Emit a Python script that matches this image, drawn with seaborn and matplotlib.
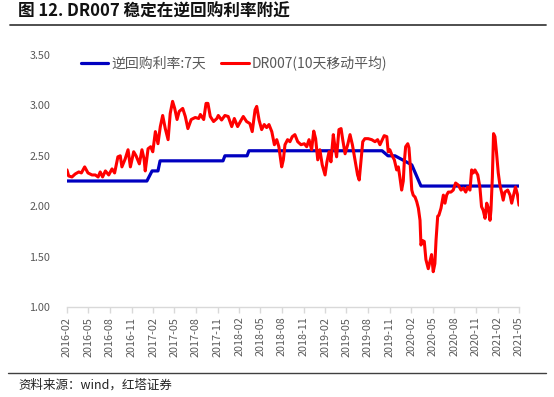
import numpy as np
import pandas as pd
import matplotlib
matplotlib.use("Agg")
import matplotlib.pyplot as plt
import matplotlib.dates as mdates
import seaborn as sns

sns.set_theme(style="white")
plt.rcParams['font.family'] = ['Noto Sans CJK SC', 'DejaVu Sans']

# 逆回购利率:7天 (turning points)
repo_dates = ['2016-02-01', '2017-01-05', '2017-01-27', '2017-02-21', '2017-03-02',
              '2017-11-24', '2017-12-02', '2018-03-06', '2018-03-14', '2019-09-30',
              '2019-10-25', '2019-11-24', '2020-02-03', '2020-03-13', '2021-05-03']
repo_rate = [2.25, 2.25, 2.35, 2.35, 2.45,
             2.45, 2.50, 2.50, 2.55, 2.55,
             2.50, 2.50, 2.41, 2.20, 2.20]

# DR007 10天移动平均 (traced)
dr_dates = [
    '2016-02-01', '2016-02-08', '2016-02-22', '2016-03-07', '2016-03-22', '2016-04-02',
    '2016-04-16', '2016-04-30', '2016-05-17', '2016-05-31', '2016-06-12', '2016-06-21',
    '2016-07-01', '2016-07-13', '2016-07-27', '2016-08-10', '2016-08-21', '2016-09-04',
    '2016-09-14', '2016-09-21', '2016-10-05', '2016-10-17', '2016-10-27', '2016-11-10',
    '2016-11-20', '2016-12-04', '2016-12-15', '2016-12-24', '2016-12-29', '2017-01-10',
    '2017-01-21', '2017-01-30', '2017-02-10', '2017-02-21', '2017-03-03', '2017-03-13',
    '2017-03-24', '2017-04-05', '2017-04-14', '2017-04-24', '2017-05-03', '2017-05-13',
    '2017-05-22', '2017-06-06', '2017-06-17', '2017-06-28', '2017-07-12', '2017-07-29',
    '2017-08-13', '2017-08-20', '2017-09-03', '2017-09-13', '2017-09-21', '2017-10-01',
    '2017-10-15', '2017-10-29', '2017-11-04', '2017-11-18', '2017-12-02', '2017-12-16',
    '2017-12-31', '2018-01-11', '2018-01-25', '2018-02-08', '2018-02-18', '2018-03-04',
    '2018-03-18', '2018-03-28', '2018-04-09', '2018-04-16', '2018-04-26', '2018-05-07',
    '2018-05-18', '2018-05-28', '2018-06-07', '2018-06-19', '2018-06-30', '2018-07-10',
    '2018-07-19', '2018-07-31', '2018-08-07', '2018-08-14', '2018-08-25', '2018-09-04',
    '2018-09-14', '2018-09-25', '2018-10-07', '2018-10-21', '2018-11-04', '2018-11-14',
    '2018-11-24', '2018-12-05', '2018-12-14', '2018-12-22', '2018-12-31', '2019-01-09',
    '2019-01-19', '2019-01-31', '2019-02-08', '2019-02-17', '2019-02-25', '2019-03-07',
    '2019-03-14', '2019-03-21', '2019-03-31', '2019-04-09', '2019-04-16', '2019-04-26',
    '2019-05-07', '2019-05-17', '2019-05-27', '2019-06-07', '2019-06-18', '2019-06-25',
    '2019-07-02', '2019-07-10', '2019-07-19', '2019-08-02', '2019-08-17', '2019-08-31',
    '2019-09-11', '2019-09-21', '2019-10-01', '2019-10-09', '2019-10-20', '2019-10-26',
    '2019-11-02', '2019-11-12', '2019-11-21', '2019-12-01', '2019-12-08', '2019-12-15',
    '2019-12-22', '2019-12-29', '2020-01-02', '2020-01-08', '2020-01-17', '2020-01-22',
    '2020-01-28', '2020-02-03', '2020-02-09', '2020-02-17', '2020-02-24', '2020-03-02',
    '2020-03-09', '2020-03-13', '2020-03-19', '2020-03-27', '2020-04-03', '2020-04-13',
    '2020-04-20', '2020-04-27', '2020-05-04', '2020-05-11', '2020-05-16', '2020-05-23',
    '2020-05-28', '2020-06-06', '2020-06-16', '2020-06-23', '2020-06-30', '2020-07-07',
    '2020-07-18', '2020-07-28', '2020-08-07', '2020-08-18', '2020-08-30', '2020-09-09',
    '2020-09-19', '2020-09-27', '2020-10-07', '2020-10-14', '2020-10-21', '2020-10-28',
    '2020-11-09', '2020-11-18', '2020-11-25', '2020-12-02', '2020-12-10', '2020-12-17',
    '2020-12-24', '2020-12-31', '2021-01-04', '2021-01-10', '2021-01-15', '2021-01-21',
    '2021-01-28', '2021-02-04', '2021-02-11', '2021-02-18', '2021-02-25', '2021-03-04',
    '2021-03-16', '2021-03-26', '2021-04-02', '2021-04-09', '2021-04-18', '2021-04-26',
    '2021-05-03']
dr_value = [
    2.36, 2.30, 2.29, 2.32, 2.34, 2.33,
    2.39, 2.33, 2.31, 2.31, 2.29, 2.34,
    2.29, 2.35, 2.31, 2.37, 2.33, 2.49,
    2.50, 2.39, 2.47, 2.56, 2.39, 2.54,
    2.50, 2.42, 2.56, 2.47, 2.35, 2.57,
    2.59, 2.54, 2.74, 2.62, 2.79, 2.90,
    2.77, 2.66, 2.92, 3.04, 2.97, 2.86,
    2.94, 2.97, 2.89, 2.77, 2.86, 2.88,
    2.87, 2.91, 2.86, 3.02, 3.02, 2.89,
    2.84, 2.87, 2.90, 2.855, 2.90, 2.89,
    2.79, 2.87, 2.79, 2.85, 2.89, 2.84,
    2.82, 2.74, 2.955, 2.99, 2.855, 2.76,
    2.81, 2.78, 2.81, 2.74, 2.61, 2.66,
    2.59, 2.39, 2.46, 2.61, 2.66, 2.64,
    2.69, 2.71, 2.64, 2.61, 2.62, 2.59,
    2.66, 2.56, 2.745, 2.67, 2.46, 2.56,
    2.41, 2.31, 2.44, 2.54, 2.44, 2.71,
    2.59, 2.49, 2.76, 2.77, 2.66, 2.52,
    2.61, 2.71, 2.61, 2.46, 2.31, 2.26,
    2.44, 2.64, 2.67, 2.67, 2.66, 2.64,
    2.66, 2.61, 2.66, 2.70, 2.69, 2.54,
    2.56, 2.50, 2.46, 2.36, 2.39, 2.28,
    2.16, 2.25, 2.43, 2.59, 2.62, 2.58,
    2.39, 2.16, 2.11, 2.09, 2.045, 1.98,
    1.86, 1.615, 1.66, 1.65, 1.47, 1.38,
    1.45, 1.52, 1.35, 1.43, 1.665, 1.90,
    1.91, 1.98, 2.11, 2.03, 2.11, 2.14,
    2.14, 2.16, 2.23, 2.21, 2.16, 2.18,
    2.14, 2.19, 2.16, 2.36, 2.33, 2.36,
    2.31, 2.19, 1.995, 1.96, 1.88, 2.03,
    1.98, 1.86, 1.96, 2.29, 2.72, 2.69,
    2.52, 2.33, 2.21, 2.14, 2.06, 2.14,
    2.16, 2.11, 2.03, 2.10, 2.19, 2.12,
    2.01]

repo_label = '逆回购利率:7天'
dr_label = 'DR007(10天移动平均)'
title = '图 12. DR007 稳定在逆回购利率附近'
source = '资料来源：wind，红塔证券'

repo_df = pd.DataFrame({'date': pd.to_datetime(repo_dates), 'value': repo_rate})
dr_df = pd.DataFrame({'date': pd.to_datetime(dr_dates), 'value': dr_value})

fig = plt.figure(figsize=(5.54, 3.97), dpi=100)
ax = fig.add_axes([67 / 554, 1 - 307 / 397, (519 - 67) / 554, (307 - 55) / 397])

sns.lineplot(data=repo_df, x='date', y='value', ax=ax, color='#0000C0',
             linewidth=2.3, label=repo_label)
sns.lineplot(data=dr_df, x='date', y='value', ax=ax, color='#FF0000',
             linewidth=2.2, label=dr_label)

ax.set_ylim(1.0, 3.5)
ax.set_yticks(np.arange(1.0, 3.51, 0.5))
ax.yaxis.set_major_formatter(matplotlib.ticker.FormatStrFormatter('%.2f'))
ax.set_xlim(pd.Timestamp('2016-02-01'), pd.Timestamp('2021-05-03'))
ticks = pd.date_range('2016-02-01', '2021-05-01', freq='3MS')
ax.set_xticks(ticks)
ax.xaxis.set_major_formatter(mdates.DateFormatter('%Y-%m'))
ax.set_xlabel('')
ax.set_ylabel('')

for s in ['top', 'right', 'left']:
    ax.spines[s].set_visible(False)
ax.spines['bottom'].set_color('#D9D9D9')
ax.spines['bottom'].set_linewidth(1.0)
ax.tick_params(axis='x', which='major', direction='out', length=4, width=1,
               color='#D9D9D9', labelsize=7.8, labelcolor='#595959',
               labelrotation=90, pad=3, bottom=True)
ax.tick_params(axis='y', length=0, labelsize=7.8, labelcolor='#595959', pad=12)

leg = ax.legend(loc='center left', bbox_to_anchor=(0.018, 0.968), ncol=2,
                frameon=False, fontsize=10, handlelength=2.0,
                handletextpad=0.2, columnspacing=1.1, borderaxespad=0)
for t in leg.get_texts():
    t.set_color('#595959')

fig.text(18 / 554, 1 - 12 / 397, title, fontsize=12, fontweight='bold',
         color='#111111', va='center', ha='left')
fig.add_artist(plt.Line2D([10 / 554, 546 / 554], [1 - 25 / 397, 1 - 25 / 397],
                          color='#404040', linewidth=1.3))
fig.add_artist(plt.Line2D([8 / 554, 546 / 554], [1 - 373 / 397, 1 - 373 / 397],
                          color='#404040', linewidth=1.0))
fig.text(18 / 554, 1 - 385 / 397, source, fontsize=9, color='#222222',
         va='center', ha='left')

fig.savefig('out.png', dpi=100)
